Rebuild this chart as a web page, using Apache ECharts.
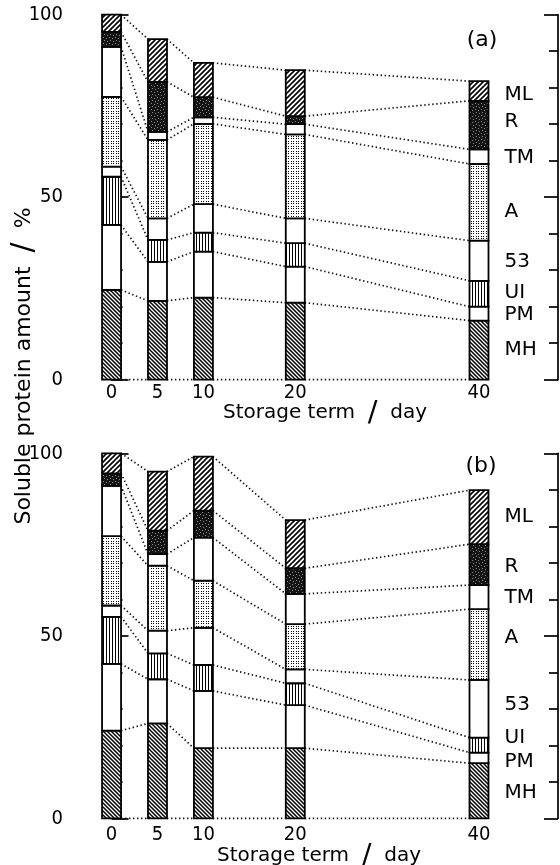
<!DOCTYPE html>
<html>
<head>
<meta charset="utf-8">
<script src="https://cdn.jsdelivr.net/npm/echarts@6/dist/echarts.min.js"></script>
<style>
html, body { margin: 0; padding: 0; background: #fff; }
#chart { width: 560px; height: 865px; }
</style>
</head>
<body>
<div id="chart"></div>
<script>
var days = [0, 5, 10, 20, 40];
var fractions = ['MH', 'PM', 'UI', '53', 'A', 'TM', 'R', 'ML'];

// (a) amount of each fraction, %
var aMH = [24.6, 21.6, 22.5, 21.1, 16.2];
var aPM = [17.8, 10.7, 12.6, 9.9, 3.8];
var aUI = [13.2, 6.0, 5.2, 6.4, 7.1];
var a53 = [2.8, 5.9, 7.8, 6.8, 11.0];
var aA  = [19.1, 21.5, 22.0, 23.0, 21.0];
var aTM = [13.7, 2.2, 1.8, 2.8, 4.0];
var aR  = [4.1, 13.7, 5.5, 2.2, 13.3];
var aML = [4.7, 11.7, 9.4, 12.6, 5.4];

// (b)
var bMH = [24.0, 26.0, 19.2, 19.2, 15.1];
var bPM = [18.3, 12.1, 15.7, 11.8, 2.9];
var bUI = [12.9, 7.1, 7.1, 6.0, 4.1];
var b53 = [3.1, 6.2, 10.2, 3.8, 15.8];
var bA  = [19.0, 17.8, 12.9, 12.4, 19.4];
var bTM = [13.8, 3.2, 11.8, 8.3, 6.6];
var bR  = [3.4, 6.4, 7.4, 7.0, 11.2];
var bML = [5.5, 16.2, 14.8, 13.2, 14.8];

// where the fraction names sit on the right (axis units)
var labelAtA = [8.1, 17.7, 23.8, 32.3, 46.0, 60.7, 70.7, 78.0];
var labelAtB = [6.9, 15.5, 22.0, 31.0, 49.4, 60.3, 68.9, 82.6];

var panelA = [aMH, aPM, aUI, a53, aA, aTM, aR, aML];
var panelB = [bMH, bPM, bUI, b53, bA, bTM, bR, bML];

var BAR_W = 19;
var numFont = "'Liberation Sans Narrow', 'DejaVu Sans Condensed', sans-serif";
var txtFont = "'DejaVu Sans', sans-serif";

function tile(w, h, draw) {
	var c = document.createElement('canvas');
	c.width = w; c.height = h;
	var ctx = c.getContext('2d');
	ctx.fillStyle = '#fff';
	ctx.fillRect(0, 0, w, h);
	draw(ctx);
	return { image: c, repeat: 'repeat' };
}

var fills = [
	// MH  \\\
	tile(4, 4, function (ctx) {
		ctx.strokeStyle = '#000'; ctx.lineWidth = 1.5;
		ctx.beginPath();
		ctx.moveTo(-1, -1); ctx.lineTo(5, 5);
		ctx.moveTo(-1, 3); ctx.lineTo(1, 5);
		ctx.moveTo(3, -1); ctx.lineTo(5, 1);
		ctx.stroke();
	}),
	'#fff',
	// UI  |||
	tile(3, 1, function (ctx) {
		ctx.fillStyle = '#000'; ctx.fillRect(1, 0, 1, 1);
	}),
	'#fff',
	// A  dots
	tile(5, 5, function (ctx) {
		ctx.fillStyle = '#000';
		ctx.fillRect(1, 1, 1, 1); ctx.fillRect(3, 1, 1, 1);
		ctx.fillRect(1, 3, 1, 1); ctx.fillRect(3, 3, 1, 1);
	}),
	'#fff',
	// R  dark stipple
	tile(6, 6, function (ctx) {
		ctx.fillStyle = '#141414'; ctx.fillRect(0, 0, 6, 6);
		ctx.fillStyle = '#8a8a8a';
		ctx.fillRect(1, 1, 1, 1); ctx.fillRect(4, 2, 1, 1);
		ctx.fillRect(2, 4, 1, 1); ctx.fillRect(5, 5, 1, 1);
	}),
	// ML  ///
	tile(5, 5, function (ctx) {
		ctx.strokeStyle = '#000'; ctx.lineWidth = 1.6;
		ctx.beginPath();
		ctx.moveTo(-1, 6); ctx.lineTo(6, -1);
		ctx.moveTo(-1, 1); ctx.lineTo(1, -1);
		ctx.moveTo(4, 6); ctx.lineTo(6, 4);
		ctx.stroke();
	})
];

function segments(cols) {
	var out = [];
	days.forEach(function (d, i) {
		var base = 0;
		cols.forEach(function (col, k) {
			out.push([d, base, base + col[i], k]);
			base += col[i];
		});
	});
	return out;
}

function links(cols) {
	var levels = [];
	days.forEach(function (d, i) {
		var lv = [0], s = 0;
		cols.forEach(function (col) { s += col[i]; lv.push(s); });
		levels.push(lv);
	});
	var out = [];
	for (var i = 0; i < days.length - 1; i++) {
		for (var k = 0; k < levels[i].length; k++) {
			out.push([days[i], levels[i][k], days[i + 1], levels[i + 1][k]]);
		}
	}
	return out;
}

function renderBar(params, api) {
	var x = api.value(0);
	var top = api.coord([x, api.value(2)]);
	var bot = api.coord([x, api.value(1)]);
	return {
		type: 'rect',
		shape: { x: top[0] - BAR_W / 2, y: top[1], width: BAR_W, height: bot[1] - top[1] },
		style: { fill: fills[api.value(3)], stroke: '#000', lineWidth: 1.8 }
	};
}

function renderLink(params, api) {
	var p0 = api.coord([api.value(0), api.value(1)]);
	var p1 = api.coord([api.value(2), api.value(3)]);
	return {
		type: 'line',
		shape: { x1: p0[0] + BAR_W / 2, y1: p0[1], x2: p1[0] - BAR_W / 2, y2: p1[1] },
		style: { stroke: '#111', lineWidth: 1.7, lineDash: [1.4, 2.6] }
	};
}

function renderName(params, api) {
	var p = api.coord([api.value(0), api.value(1)]);
	return {
		type: 'text',
		style: {
			text: fractions[api.value(2)],
			x: p[0] + BAR_W / 2 + 16, y: p[1],
			fill: '#000', fontSize: 20, fontFamily: txtFont,
			align: 'left', verticalAlign: 'middle'
		}
	};
}

function xAxisOf(gi, margin) {
	return {
		type: 'value', gridIndex: gi, min: -4.85, max: 48.6,
		axisLine: { show: false }, axisTick: { show: false }, splitLine: { show: false },
		axisLabel: { customValues: days, color: '#000', fontSize: 20, fontFamily: numFont, margin: margin }
	};
}

function yAxesOf(gi) {
	return [{
		type: 'value', gridIndex: gi, min: 0, max: 100, interval: 50, position: 'left',
		axisLine: { show: true, lineStyle: { color: '#000', width: 1.7 } },
		axisTick: { show: true, inside: true, length: 17, lineStyle: { color: '#000', width: 1.7 } },
		minorTick: { show: true, splitNumber: 5, length: 11, lineStyle: { color: '#000', width: 1.7 } },
		axisLabel: { color: '#000', fontSize: 20, fontFamily: numFont, margin: 4 },
		splitLine: { show: false }
	}, {
		type: 'value', gridIndex: gi, min: 0, max: 100, interval: 50, position: 'right',
		axisLine: { show: true, lineStyle: { color: '#000', width: 1.7 } },
		axisTick: { show: true, inside: true, length: 14, lineStyle: { color: '#000', width: 1.7 } },
		minorTick: { show: true, splitNumber: 5, length: 9, lineStyle: { color: '#000', width: 1.7 } },
		axisLabel: { show: false },
		splitLine: { show: false }
	}];
}

function panelSeries(cols, labelAt, gi) {
	var xi = gi, yi = gi * 2;
	return [{
		type: 'custom', xAxisIndex: xi, yAxisIndex: yi, silent: true, z: 1,
		renderItem: renderLink, encode: { x: [0, 2], y: [1, 3] },
		data: links(cols)
	}, {
		type: 'custom', xAxisIndex: xi, yAxisIndex: yi, silent: true, z: 2,
		renderItem: renderBar, encode: { x: 0, y: [1, 2] },
		data: segments(cols)
	}, {
		type: 'custom', xAxisIndex: xi, yAxisIndex: yi, silent: true, z: 3,
		renderItem: renderName, encode: { x: 0, y: 1 },
		data: labelAt.map(function (v, k) { return [days[days.length - 1], v, k]; })
	}];
}

function axisTitle(x, y) {
	return {
		type: 'text', x: x, y: y,
		style: {
			text: 'Storage term  {s|/}  day',
			fill: '#000', fontSize: 20, fontFamily: txtFont,
			align: 'center', verticalAlign: 'middle',
			rich: { s: { fontSize: 29, fontFamily: txtFont, fill: '#000' } }
		}
	};
}

var chart = echarts.init(document.getElementById('chart'), null, { renderer: 'canvas' });

var option = {
	backgroundColor: '#fff',
	animation: false,
	grid: [
		{ left: 67, top: 14.7, width: 491, height: 365, outerBoundsMode: 'none' },
		{ left: 67, top: 453.3, width: 491, height: 365, outerBoundsMode: 'none' }
	],
	xAxis: [xAxisOf(0, 3), xAxisOf(1, 6)],
	yAxis: yAxesOf(0).concat(yAxesOf(1)),
	series: panelSeries(panelA, labelAtA, 0).concat(panelSeries(panelB, labelAtB, 1)),
	graphic: [{
		type: 'text', x: 24, y: 366, rotation: Math.PI / 2,
		style: {
			text: 'Soluble protein amount  {s|/}  %',
			fill: '#000', fontSize: 22, fontFamily: txtFont,
			align: 'center', verticalAlign: 'middle',
			rich: { s: { fontSize: 30, fontFamily: txtFont, fill: '#000' } }
		}
	},
	axisTitle(325, 413),
	axisTitle(319, 856),
	{
		type: 'text', x: 482, y: 40,
		style: { text: '(a)', fill: '#000', fontSize: 22, fontFamily: txtFont, align: 'center', verticalAlign: 'middle' }
	}, {
		type: 'text', x: 481, y: 466,
		style: { text: '(b)', fill: '#000', fontSize: 22, fontFamily: txtFont, align: 'center', verticalAlign: 'middle' }
	}]
};

chart.setOption(option);
</script>
</body>
</html>
